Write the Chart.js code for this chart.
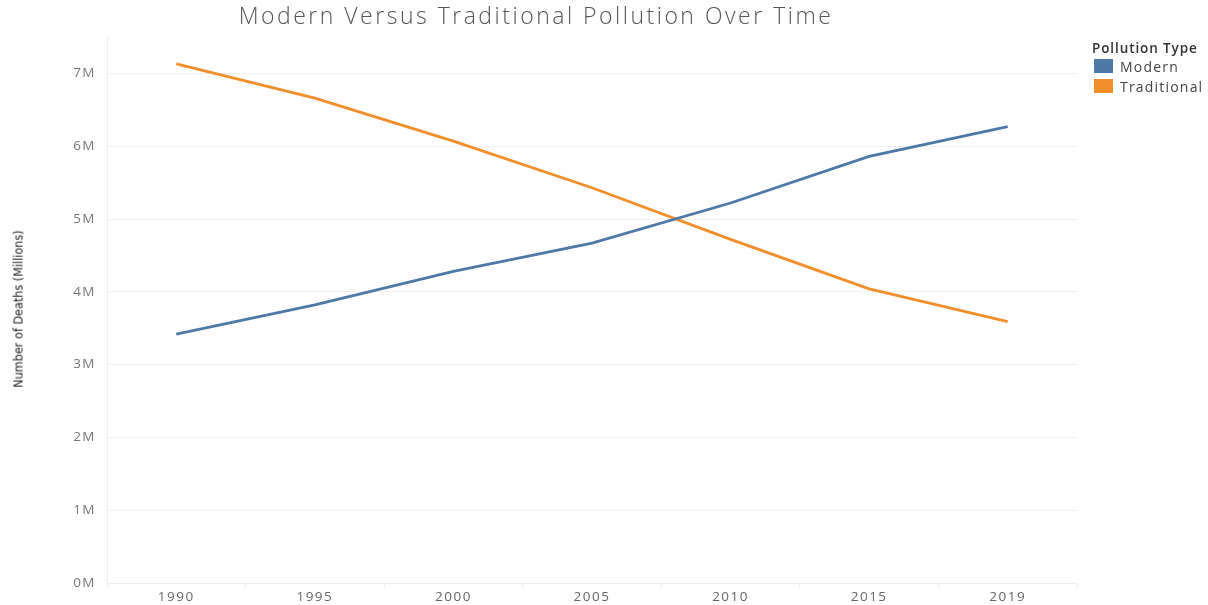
<!DOCTYPE html>
<html>
<head>
<meta charset="utf-8">
<script src="https://cdn.jsdelivr.net/npm/chart.js@4/dist/chart.umd.min.js"></script>
<style>
  body { margin: 0; background: #fff; }
  #wrap { position: relative; width: 1208px; height: 605px; }
  #chartTitle {
    position: absolute; left: 0; width: 1072px; top: -1px; text-align: center;
    font-family: "Open Sans", sans-serif; font-weight: 300; font-size: 23px; color: #555;
    letter-spacing: 2.5px;
  }
  #yTitle {
    position: absolute; left: 18px; top: 309px; transform: translate(-50%, -50%) rotate(-90deg);
    white-space: nowrap; font-family: "DejaVu Sans Condensed", sans-serif; font-weight: normal;
    font-size: 12.5px; color: #222;
  }
  #legend {
    position: absolute; left: 1092px; top: 40px;
    font-family: "Open Sans", sans-serif; font-size: 14px; color: #444; letter-spacing: 1.2px;
  }
  #legend .lt { font-weight: 600; color: #333; height: 16px; line-height: 16px; letter-spacing: 0.9px; font-size: 13.5px; }
  #legend .item { display: flex; align-items: center; height: 20px; }
  #legend .sw { width: 19px; height: 14px; margin: 0 7px 0 2px; }
</style>
</head>
<body>
<div id="wrap">
  <canvas id="lineChart" width="1208" height="605"></canvas>
  <div id="chartTitle">Modern Versus Traditional Pollution Over Time</div>
  <div id="yTitle">Number of Deaths (Millions)</div>
  <div id="legend"><div class="lt">Pollution Type</div></div>
</div>
<script>
// deaths in millions
const years = ['1990', '1995', '2000', '2005', '2010', '2015', '2019'];
const modern = [3.42, 3.82, 4.28, 4.67, 5.22, 5.86, 6.27];
const traditional = [7.13, 6.66, 6.07, 5.43, 4.72, 4.04, 3.59];
const seriesNames = ['Modern', 'Traditional'];
const seriesColors = ['#4e79a7', '#f28e2b'];

const legendEl = document.getElementById('legend');
seriesNames.forEach((name, i) => {
  const item = document.createElement('div');
  item.className = 'item';
  item.innerHTML = '<span class="sw" style="background:' + seriesColors[i] + '"></span>' + name;
  legendEl.appendChild(item);
});

// tableau-ish tick labels are wider, so space the canvas text a bit
const spacingPlugin = {
  id: 'spacing',
  beforeLayout: function(chart) { chart.ctx.letterSpacing = '1.5px'; },
  beforeDraw: function(chart) { chart.ctx.letterSpacing = '1.5px'; }
};

const ctx = document.getElementById('lineChart');
new Chart(ctx.getContext('2d'), {
  type: 'line',
  data: {
    labels: years,
    datasets: [
      { label: seriesNames[0], data: modern, borderColor: seriesColors[0], backgroundColor: seriesColors[0] },
      { label: seriesNames[1], data: traditional, borderColor: seriesColors[1], backgroundColor: seriesColors[1] }
    ]
  },
  plugins: [spacingPlugin],
  options: {
    responsive: false,
    animation: false,
    layout: { padding: { top: 37, right: 131, left: 0, bottom: 0 } },
    elements: {
      line: { borderWidth: 2.8, tension: 0 },
      point: { radius: 0 }
    },
    plugins: {
      legend: { display: false },
      tooltip: { enabled: false }
    },
    scales: {
      x: {
        offset: true,
        grid: { offset: true, drawOnChartArea: false, drawTicks: true, tickLength: 5, color: '#eeeeee' },
        border: { color: '#eeeeee' },
        ticks: { color: '#666', font: { family: 'Open Sans', size: 13.5 }, padding: 1 },
        afterFit: function(scale) { scale.height = 22; }
      },
      y: {
        min: 0,
        max: 7.5,
        grid: { color: '#f0f0f0', drawTicks: false },
        border: { color: '#eeeeee' },
        ticks: {
          stepSize: 1,
          color: '#777',
          padding: 11,
          font: { family: 'Open Sans', size: 13.5 },
          callback: v => v + 'M'
        },
        afterBuildTicks: function(scale) {
          scale.ticks = scale.ticks.filter(t => Number.isInteger(t.value));
        },
        afterFit: function(scale) { scale.width = 107; }
      }
    }
  }
});
</script>
</body>
</html>
